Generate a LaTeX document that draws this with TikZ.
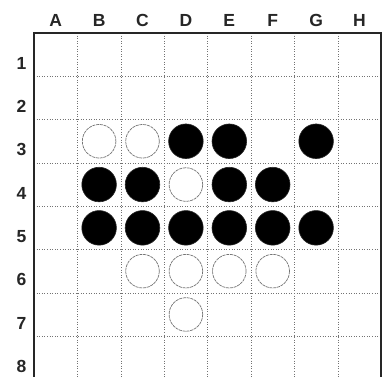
\documentclass[tikz,border=0pt]{standalone}
\usepackage{fontspec}
\setmainfont{Liberation Sans}
\begin{document}
\begin{tikzpicture}[x=1pt,y=-1pt,
  lbl/.style={font=\fontsize{17.5}{17.5}\selectfont\bfseries, text=black!85, inner sep=0pt, anchor=base},
  blk/.style={fill=black, draw=black!85, line width=0.6pt},
  wht/.style={fill=white, draw=black!55, line width=0.7pt, dash pattern=on 3pt off 0.8pt},
  inner/.style={draw=black!55, line width=0.6pt, dotted}]
\useasboundingbox (0,0) rectangle (390,376);
\clip (0,0) rectangle (390,376);
\fill[white] (0,0) rectangle (390,376);
% inner grid
\foreach \i in {1,...,7} {
  \draw[inner] ({34+43.4*\i},33) -- ({34+43.4*\i},381);
  \draw[inner] (34,{33+43.3*\i}) -- (381,{33+43.3*\i});
}
\draw[black!85, line width=2.2pt] (34,381) -- (34,33) -- (381,33) -- (381,381);
% labels
\foreach \l [count=\i from 0] in {A,B,C,D,E,F,G,H}
  \node[lbl] (col\l) at ({34+43.4*\i+21.7},26) {\l};
\foreach \r in {1,...,8}
  \node[lbl] (row\r) at (21.5,{33+43.3*(\r-1)+36.3}) {\r};
% stones: column index 0..7, row 1..8
\foreach \c/\r in {1/3,2/3,3/4,2/6,3/6,4/6,5/6,3/7}
  \draw[wht] ({34+43.4*\c+21.7},{33+43.3*(\r-1)+21.65}) circle (16.8);
\foreach \c/\r in {3/3,4/3,6/3,1/4,2/4,4/4,5/4,1/5,2/5,3/5,4/5,5/5,6/5}
  \draw[blk] ({34+43.4*\c+21.7},{33+43.3*(\r-1)+21.65}) circle (17.3);
\end{tikzpicture}
\end{document}
